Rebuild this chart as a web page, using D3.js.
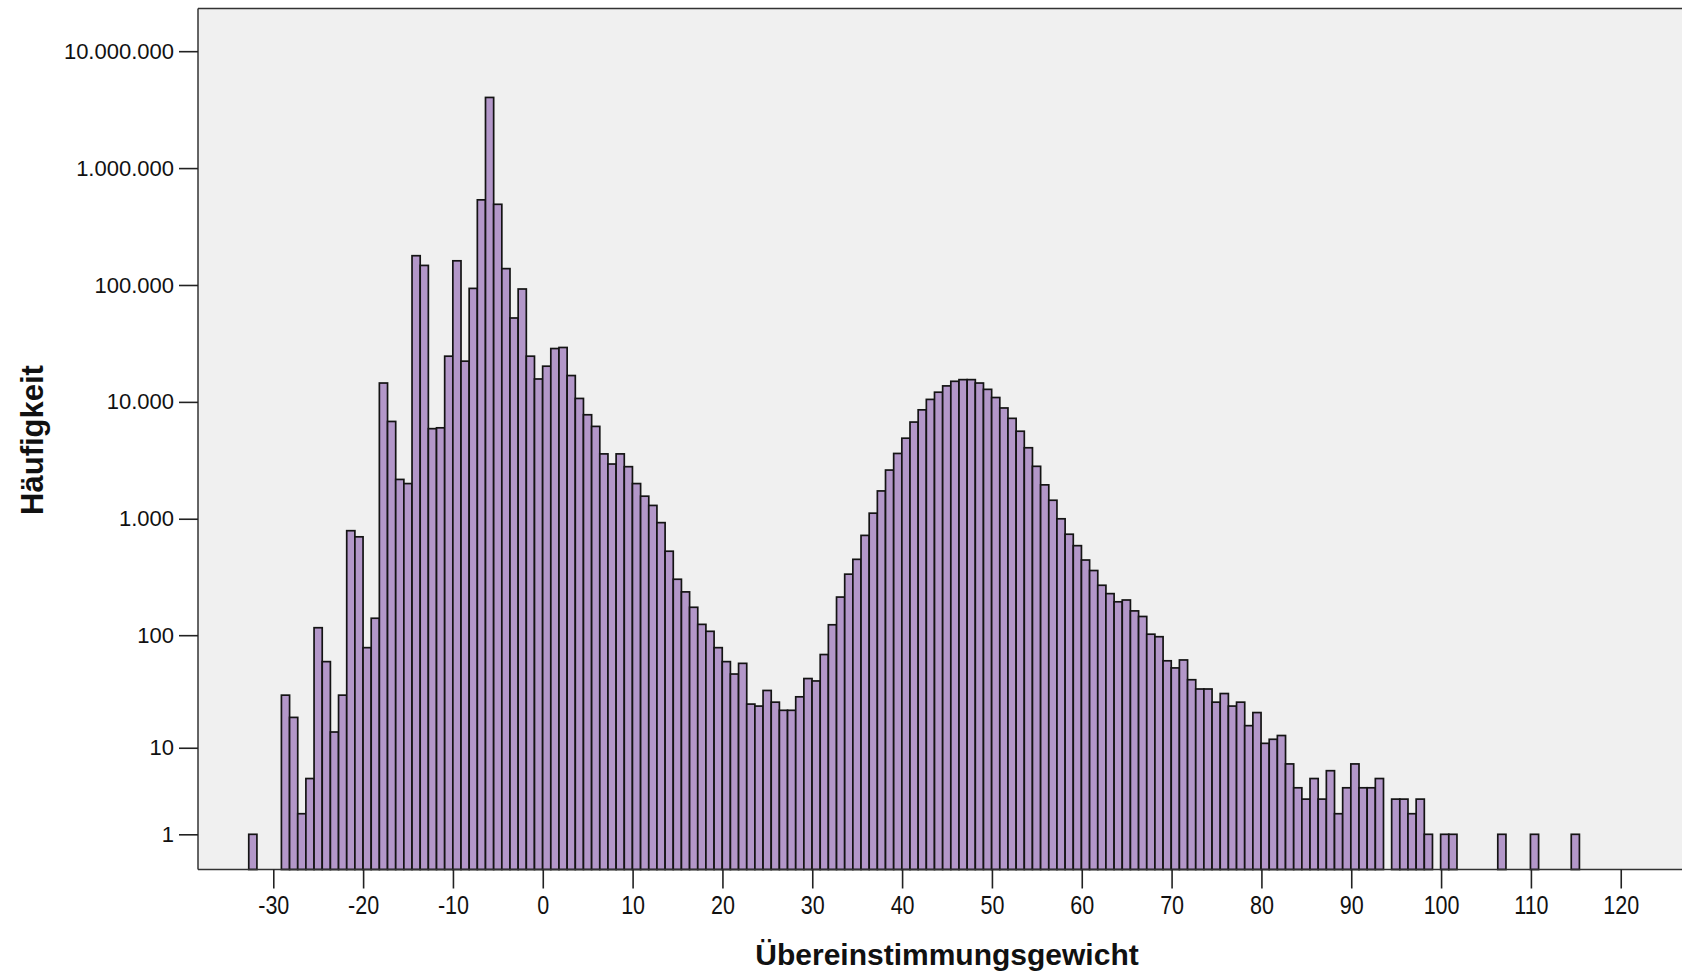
<!DOCTYPE html>
<html>
<head>
<meta charset="utf-8">
<script src="https://cdn.jsdelivr.net/npm/d3@7"></script>
<style>
  body { margin: 0; background: #ffffff; }
  svg { display: block; }
</style>
</head>
<body>
<svg id="chart" width="1682" height="973"></svg>
<script>
// Histogram range (first bin's lower edge, last bin's upper edge)
const binMin = -32.73;
const binMax = 115.40;

// Frequency per bin, left to right
const counts = [
  1, 0, 0, 0, 30, 19, 2, 5, 116, 59,
  14, 30, 790, 700, 78, 140, 14500, 6800, 2170, 2000,
  178000, 147000, 5900, 6000, 24600, 161000, 22300, 93500, 535000, 4020000,
  490000, 138000, 52200, 92400, 24600, 15700, 20200, 28600, 29200, 16800,
  10700, 7760, 6170, 3590, 2940, 3590, 2790, 2000, 1560, 1300,
  926, 527, 303, 236, 174, 124, 108, 78, 59, 46,
  57, 25, 24, 33, 26, 22, 22, 29, 42, 40,
  68, 123, 213, 335, 449, 720, 1116, 1730, 2610, 3620,
  4890, 6720, 8550, 10500, 12100, 13700, 15000, 15500, 15500, 14500,
  12800, 10900, 8870, 7230, 5610, 4050, 2810, 1950, 1440, 999,
  737, 588, 443, 360, 269, 228, 194, 201, 162, 145,
  102, 97, 60, 52, 61, 41, 34, 34, 26, 31,
  24, 26, 16, 21, 11, 12, 13, 7, 4, 3,
  5, 3, 6, 2, 4, 7, 4, 4, 5, 0,
  3, 3, 2, 3, 1, 0, 1, 1, 0, 0,
  0, 0, 0, 1, 0, 0, 0, 1, 0, 0,
  0, 0, 1
];

const xTicks = [-30, -20, -10, 0, 10, 20, 30, 40, 50, 60, 70, 80, 90, 100, 110, 120];
const yTicks = [1, 10, 100, 1000, 10000, 100000, 1000000, 10000000];
const xTitle = "Übereinstimmungsgewicht";
const yTitle = "Häufigkeit";

const binWidth = (binMax - binMin) / counts.length;
const bins = counts.map((c, i) => ({
  x0: binMin + i * binWidth,
  x1: binMin + (i + 1) * binWidth,
  count: c
}));

const fontFamily = "'Liberation Sans', Arial, Helvetica, sans-serif";
const de = d3.formatLocale({ decimal: ",", thousands: ".", grouping: [3], currency: ["", " €"] });
const fmt = de.format(",d");

const svg = d3.select("#chart");
const plot = { left: 198, top: 8.5, right: 1690, bottom: 869.5 };

const x = d3.scaleLinear()
  .domain([-38.38, 127.71])
  .range([plot.left, plot.right]);

// log(1 + n) frequency axis, so empty and single-count bins stay drawable
const y = d3.scaleSymlog()
  .constant(1)
  .domain([0, 2.318e7])
  .range([plot.bottom, plot.top]);

// plot background
svg.append("rect")
  .attr("x", plot.left)
  .attr("y", plot.top)
  .attr("width", plot.right - plot.left)
  .attr("height", plot.bottom - plot.top)
  .attr("fill", "#f0f0f0");

// bars
svg.append("g")
  .selectAll("rect")
  .data(bins)
  .join("rect")
  .attr("x", d => x(d.x0))
  .attr("width", d => x(d.x1) - x(d.x0))
  .attr("y", d => y(d.count))
  .attr("height", d => y(0) - y(d.count))
  .attr("fill", "#b397c9")
  .attr("stroke", "#141414")
  .attr("stroke-width", 1.7);

// frame lines
const frame = svg.append("g").attr("stroke", "#333").attr("stroke-width", 1.5).attr("fill", "none");
frame.append("line").attr("x1", plot.left).attr("x2", plot.left).attr("y1", plot.top).attr("y2", plot.bottom);
frame.append("line").attr("x1", plot.left).attr("x2", plot.right).attr("y1", plot.top).attr("y2", plot.top);
frame.append("line").attr("x1", plot.left).attr("x2", plot.right).attr("y1", plot.bottom).attr("y2", plot.bottom);

// y axis
const yAxis = svg.append("g")
  .attr("transform", `translate(${plot.left},0)`)
  .call(d3.axisLeft(y).tickValues(yTicks).tickFormat(fmt).tickSize(19).tickPadding(5));
yAxis.select(".domain").remove();
yAxis.selectAll(".tick line").attr("stroke", "#222").attr("stroke-width", 1.6);
yAxis.selectAll(".tick text")
  .attr("fill", "#111")
  .style("font-family", fontFamily)
  .style("font-size", "22px");

// x axis
const xAxis = svg.append("g")
  .attr("transform", `translate(0,${plot.bottom})`)
  .call(d3.axisBottom(x).tickValues(xTicks).tickFormat(d => String(d)).tickSize(19).tickPadding(8));
xAxis.select(".domain").remove();
xAxis.selectAll(".tick line").attr("stroke", "#222").attr("stroke-width", 1.6);
xAxis.selectAll(".tick text")
  .attr("fill", "#111")
  .style("font-family", fontFamily)
  .style("font-size", "25px")
  .each(function () {
    const w = this.getComputedTextLength();
    d3.select(this).attr("textLength", w * 0.86).attr("lengthAdjust", "spacingAndGlyphs");
  });

// axis titles
svg.append("text")
  .attr("x", 947)
  .attr("y", 965)
  .attr("text-anchor", "middle")
  .attr("fill", "#111")
  .style("font-family", fontFamily)
  .style("font-weight", "bold")
  .style("font-size", "30px")
  .text(xTitle);

svg.append("text")
  .attr("transform", "translate(43,440) rotate(-90)")
  .attr("text-anchor", "middle")
  .attr("fill", "#111")
  .style("font-family", fontFamily)
  .style("font-weight", "bold")
  .style("font-size", "31px")
  .text(yTitle);
</script>
</body>
</html>
